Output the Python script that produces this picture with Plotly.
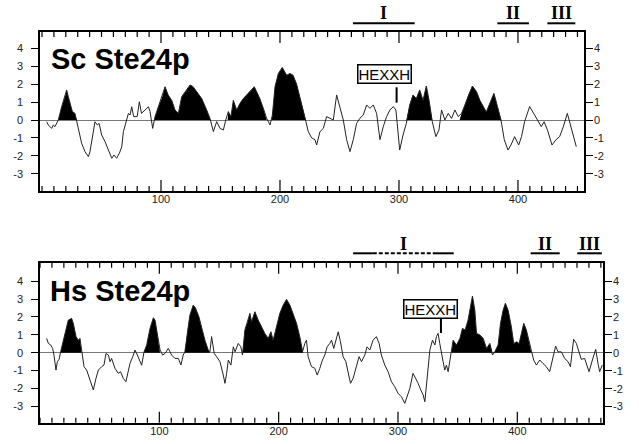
import numpy as np
import plotly.graph_objects as go

# ---------------- data ----------------
SC_POS = [4, 5.3, 8.1, 9.5, 10.9, 13.7, 16.5, 19.3, 20.7, 22.1, 23.5, 25.5, 27.7, 29.1, 30.5, 33.3, 36.1, 39, 40.3, 42.6,
          44.5, 46.5, 48, 50.1, 52.9, 55.8, 58.6, 60.5, 62.7, 65, 67, 68.4, 70.5, 72.6, 74, 75.4, 77, 80, 81.8, 83.6,
          86.6, 89.4, 90.8, 93, 95, 97.8, 100.6, 103.4, 106, 109, 111.8, 114.6, 117.4, 121.6, 124.4, 127, 130, 134.2,
          138.4, 141.2, 144, 146.8, 149.6, 152.4, 154.4, 156.6, 158.8, 160.8, 163.6, 166.4, 169.2, 172, 174.8, 178.4,
          180.4, 183, 186, 188.8, 191.6, 193.6, 195.8, 198.6, 201.9, 205.6, 208.4, 211, 214, 216.8, 219.6, 221.8,
          223.8, 226.6, 229.4, 230.8, 233.6, 236.4, 239.2, 242, 244.8, 247.6, 250.4, 253.2, 256, 258.8, 261.6, 264.4,
          267.2, 270, 272.8, 275.6, 278.4, 281.2, 284, 286.8, 289.6, 292.4, 295.2, 297.4, 298.5, 300.6, 303.4, 306.2,
          309, 311.8, 314.6, 317.4, 320.2, 323, 325.3, 328, 331, 333.6, 335.8, 338.6, 341.4, 344.2, 347, 349.8, 352.6,
          355.4, 358.2, 361.7, 365.2, 368, 373.4, 376.4, 379.8, 382.8, 385.7, 388.5, 391.6, 394.1, 397.2, 400.6, 403,
          405.6, 409.8, 414, 416.5, 419.6, 422, 425, 428.6, 432, 435, 438, 441.5, 444.8, 447, 449]
SC_HYD = [-0.1, -0.28, -0.47, -0.28, -0.37, 0, 0.74, 1.3, 1.68, 1.3, 0.93, 0.47, 0.37, -0.1, -0.56, -1.3, -1.77, -2.05,
          -1.77, -0.74, -0.1, -0.28, -0.19, -0.84, -1.2, -1.68, -2.14, -1.96, -2.14, -1.86, -1.5, -0.65, -0.19, 0.37,
          0.28, 0.74, 0.19, 0.19, 1.02, 0.37, 0.56, 0.74, 0.47, -0.47, 0.19, 0.74, 1.2, 1.86, 1.4, 1.1, 0.56, 0.37,
          1.3, 1.68, 1.96, 1.86, 1.58, 1.2, 0.56, 0.09, -0.65, -0.09, -0.47, -0.56, 0, 0.47, 0.19, 1.1, 0.56, 0.93,
          1.2, 1.4, 1.58, 1.86, 1.58, 1.2, 0.65, 0.09, -0.28, 0.28, 1.86, 2.6, 2.94, 2.5, 2.6, 2.5, 2.0, 1.3, 0.47,
          -0.1, -0.65, -1.0, -1.1, -1.4, -0.65, -0.47, 0.19, 0.09, 0, 1.4, 0.75, 0, -1.1, -1.77, -1.1, -0.19, 0.1,
          0.28, 0.84, 0.65, 0.84, 0.37, -1.1, -0.37, 0.19, 0.56, 0.75, 0.56, -0.19, -1.68, -0.84, -0.19, 0.84, 1.4,
          1.2, 1.68, 1.1, 1.9, 1.1, -0.1, -0.93, -0.56, 0.56, 0, 0.37, 0.09, 0.56, 0.19, 0.37, 0.84, 1.4, 1.9, 1.58,
          1.1, 0.45, 0.93, 1.49, 0.75, 0, -1.1, -1.68, -1.4, -0.93, -1.4, -0.93, -0.09, 0.75, 0.28, 0.0, -0.37, -0.1,
          -0.6, -1.4, -1.1, -0.93, -0.4, 0.37, -0.47, -0.93, -1.49]

HS_POS = [5.6, 7, 9, 10.6, 11.7, 13.4, 14.5, 16, 17.3, 19.6, 21.8, 23.7, 26.5, 27.9, 30.2, 32.1, 33.5, 34.9, 36.9, 39.1,
          41.3, 43.3, 44.7, 46.9, 48.9, 51.7, 53.6, 55.3, 57.3, 58.7, 60, 62.8, 65.6, 67.5, 69.8, 72, 74, 75.4, 77.7,
          79.6, 81.6, 83.8, 85.2, 87.2, 89.4, 92.2, 95, 96.4, 97.8, 100.6, 102.8, 104.8, 107.5, 110.3, 113.1, 115.9,
          118.1, 120, 121.4, 123.7, 125.6, 128.4, 130.4, 133.2, 136, 138.2, 141, 142.4, 143.8, 146, 148, 150.8, 153.6,
          155, 156.4, 157.8, 160, 162, 163.5, 166.1, 168.3, 169.7, 171.7, 174, 175.9, 177.3, 180.1, 182.9, 185.6,
          188.4, 191.2, 193.5, 195.4, 198.2, 201, 203.8, 206.6, 209.4, 212.2, 215, 217.7, 220, 221.9, 223.3, 224.7,
          227.5, 230.3, 232.3, 234.5, 236.7, 238.7, 240.6, 242.9, 244.3, 246.2, 247.9, 249.9, 251.8, 254, 256.3,
          258.2, 260.2, 262.4, 265.2, 267.4, 269.4, 272.2, 274.1, 276.4, 279.1, 281.9, 284.2, 286.1, 288.9, 291.7,
          294.5, 297.3, 300.1, 302.9, 305.7, 307.6, 309.9, 312.6, 314.9, 316.9, 319.1, 321.1, 322.5, 323.9, 325.3,
          326.7, 328.9, 330.9, 332.2, 333.6, 335, 336.4, 337.8, 339.2, 340.6, 342, 344.8, 346.2, 349, 351.9, 354,
          356.3, 358.7, 361, 362.4, 364.4, 365.8, 368.5, 371.4, 374.2, 377, 379.2, 381.1, 383.9, 385.9, 388.1, 390,
          392.3, 395, 397, 399.3, 401.5, 403.4, 405.4, 407.6, 409.6, 411.8, 413.7, 416, 418.8, 421.5, 424.3, 427.1,
          429.9, 432.1, 434.1, 436.9, 439.7, 442.5, 444.5, 447.2, 449.5, 451.7, 453.6, 456.4, 460.1, 462.9, 465.7,
          467.6, 469, 471.2]
HS_HYD = [0.8, 0.52, 0.43, 0.24, -0.13, -0.97, -0.5, -0.37, 0.05, 0.7, 1.36, 1.82, 1.92, 1.64, 0.9, 0.7, 0.8, 0.05,
          -0.78, -0.97, -1.43, -1.9, -2.08, -1.43, -0.97, -0.78, -0.69, -0.04, -0.13, -0.5, -0.32, -0.87, -1.15, -1.06,
          -1.43, -1.62, -0.97, -0.6, -0.22, 0.15, -0.13, -0.5, -0.7, 0.05, 0.43, 1.36, 1.95, 1.82, 1.27, 0.15, -0.13,
          -0.04, 0.24, -0.13, -0.32, -0.32, -0.69, -0.13, 0.05, 1.27, 2.1, 2.66, 2.48, 2.0, 1.27, 0.7, 0.15, 0.05, 0.9,
          -0.04, -0.22, -0.5, -1.25, -1.71, -1.15, -0.41, -0.69, 0.33, 0.05, 0.52, 0.33, -0.13, 1.27, 1.73, 2.2, 1.73,
          2.29, 1.82, 1.45, 1.08, 0.8, 1.17, 0.7, 1.45, 2.2, 2.66, 2.98, 2.66, 2.2, 1.64, 0.9, 0.05, 0.52, 0.7, -0.22,
          -0.78, -0.87, -1.25, -0.87, -0.41, -0.13, 0.33, 0.52, 0.7, 0.24, 0.7, 1.17, 0.61, -0.22, -0.5, -1.06, -1.71,
          -1.43, -0.69, -0.22, -0.5, -0.13, 0.33, 0.15, 0.7, 0.9, 0.52, -0.13, -0.69, -1.06, -1.62, -1.9, -2.27, -2.46,
          -2.83, -2.46, -2.0, -1.15, -1.43, -1.71, -2.08, -2.36, -2.74, -1.9, -0.78, 0.15, 0.7, 0.43, 0.9, 1.08, 0.52,
          -0.13, -0.5, -0.97, -0.69, -1.06, 0, 0.7, 0.43, 0.8, 1.36, 1.27, 1.82, 2.76, 3.17, 2.38, 1.08, 1.0, 0.8,
          0.24, 0.52, -0.13, 0.05, 0.43, 1.64, 2.38, 2.76, 2.38, 1.45, 0.52, 0.61, 0.52, 1.08, 1.64, 1.27, 0.7, 0,
          -0.41, -0.69, -0.41, -0.6, -0.78, -1.06, -0.22, 0.37, 0.05, 0.05, -0.32, -0.5, -0.78, 0.75, 0.52, 0,
          -0.37, -0.32, -1.06, -0.41, 0.19, -0.6, -1.06, -0.69]

# shaded (hydrophobic) segments, residue ranges
SC_FILL = [(13.7, 29.1), (94.5, 141.5), (156.0, 188.8), (193.0, 221.8), (306.0, 328.0), (351.0, 386.0)]
HS_FILL = [(17.3, 34.9), (87.2, 100.6), (121.4, 142.4), (169.7, 220.5), (344.8, 411.8)]

# conserved regions I, II, III (residue ranges) and the HEXXH motif position
SC_REGIONS = {"I": [(261.3, 313.2, "solid")], "II": [(382.7, 409.2, "solid")], "III": [(424.7, 448.2, "solid")]}
HS_REGIONS = {"I": [(262.4, 278.9, "solid"), (278.9, 329.1, "4px,2px"), (329.1, 346.7, "solid")],
              "II": [(411.2, 435.5, "solid")], "III": [(450.2, 470.8, "solid")]}
SC_HEXXH = 298
HS_HEXXH = 336

Y_TICKS = [-3, -2, -1, 0, 1, 2, 3, 4]
Y_TEXT = ["-3", "-2", "-1", "0", "1", "2", "3", "4"]
X_TICKS = [100, 200, 300, 400]
X_MINOR_STEP = 10

W, H = 639, 444
FONT = "Liberation Sans, Arial, Helvetica, sans-serif"
SERIF = "Liberation Serif, Times New Roman, serif"
MAJOR_LEN_PX = 11
MINOR_LEN_PX = 5


def fill_paths(pos, hyd, regions):
    pos = np.asarray(pos, float)
    hyd = np.asarray(hyd, float)
    xs, ys = [], []
    for a, b in regions:
        sel = (pos >= a) & (pos <= b)
        xs += [a] + list(pos[sel]) + [b, None]
        ys += [0] + list(np.clip(hyd[sel], 0, None)) + [0, None]
    return xs, ys


tickfont = dict(family=FONT, size=11, color="#222")

top_x = [40 / W, 584 / W]
bot_x = [40 / W, 603 / W]
top_y = [1 - 191 / H, 1 - 32 / H]
bot_y = [1 - 422.7 / H, 1 - 262.7 / H]
top_xr = [-1.7, 455.5]
bot_xr = [0, 471.8]
top_yr = [-3.97, 4.92]
bot_yr = [-3.91, 5.03]

panels = [
    dict(pos=SC_POS, hyd=SC_HYD, fill=SC_FILL, xa="x", ya="y", xdom=top_x, ydom=top_y, xr=top_xr, yr=top_yr,
         right_px=592),
    dict(pos=HS_POS, hyd=HS_HYD, fill=HS_FILL, xa="x2", ya="y2", xdom=bot_x, ydom=bot_y, xr=bot_xr, yr=bot_yr,
         right_px=611),
]

fig = go.Figure()
layout = dict(width=W, height=H, margin=dict(l=0, r=0, t=0, b=0),
              paper_bgcolor="white", plot_bgcolor="white", showlegend=False)
annotations = []
shapes = []

for p in panels:
    fx, fy = fill_paths(p["pos"], p["hyd"], p["fill"])
    fig.add_trace(go.Scatter(x=fx, y=fy, xaxis=p["xa"], yaxis=p["ya"], mode="lines", fill="toself",
                             fillcolor="black", line=dict(width=0, color="black"), hoverinfo="skip"))
    fig.add_trace(go.Scatter(x=p["pos"], y=p["hyd"], xaxis=p["xa"], yaxis=p["ya"], mode="lines",
                             line=dict(color="#222", width=1), hoverinfo="skip"))

    xkey = "xaxis" if p["xa"] == "x" else "xaxis" + p["xa"][1:]
    ykey = "yaxis" if p["ya"] == "y" else "yaxis" + p["ya"][1:]
    layout[xkey] = dict(domain=p["xdom"], range=p["xr"], anchor=p["ya"], tickmode="array", tickvals=X_TICKS,
                        ticks="", showline=True, mirror=True, linecolor="black", linewidth=1.5,
                        showgrid=False, zeroline=False, tickfont=tickfont, ticklabelstandoff=-3)
    layout[ykey] = dict(domain=p["ydom"], range=p["yr"], anchor=p["xa"], tickvals=Y_TICKS, ticktext=Y_TEXT,
                        ticks="outside", ticklen=7, tickwidth=1, tickcolor="black", showline=True,
                        linecolor="black", linewidth=1.5, mirror="ticks", showgrid=False,
                        zeroline=True, zerolinecolor="#777", zerolinewidth=1.3, tickfont=tickfont,
                        ticklabelstandoff=6)

    # inward tick combs on the top and bottom frame edges, placed through the x scale
    panel_h_px = (p["ydom"][1] - p["ydom"][0]) * H
    yd = p["ya"] + " domain"
    for v in np.arange(0, p["xr"][1], X_MINOR_STEP):
        frac = (MAJOR_LEN_PX if v in X_TICKS else MINOR_LEN_PX) / panel_h_px
        for y0, y1 in [(0, frac), (1, 1 - frac)]:
            shapes.append(dict(type="line", xref=p["xa"], yref=yd, x0=float(v), x1=float(v), y0=y0, y1=y1,
                               line=dict(color="black", width=1.2), layer="above"))

    # right-hand tick labels
    for v, t in zip(Y_TICKS, Y_TEXT):
        annotations.append(dict(text=t, xref="paper", yref=p["ya"], x=p["right_px"] / W, y=v, xanchor="left",
                                yanchor="middle", showarrow=False, font=tickfont))

fig.update_layout(**layout)

# panel titles
annotations.append(dict(text="<b>Sc Ste24p</b>", xref="paper", yref="paper", x=49 / W, y=1 - 59 / H,
                        xanchor="left", yanchor="middle", showarrow=False,
                        font=dict(family=FONT, size=29, color="black")))
annotations.append(dict(text="<b>Hs Ste24p</b>", xref="paper", yref="paper", x=48 / W, y=1 - 291 / H,
                        xanchor="left", yanchor="middle", showarrow=False,
                        font=dict(family=FONT, size=29, color="black")))

# conserved regions
for regs, xref, bar_y, lab_y in [(SC_REGIONS, "x", 1 - 23.3 / H, 1 - 13 / H),
                                  (HS_REGIONS, "x2", 1 - 253.3 / H, 1 - 244 / H)]:
    for name, segs in regs.items():
        for a, b, style in segs:
            shapes.append(dict(type="line", xref=xref, yref="paper", x0=a, x1=b, y0=bar_y, y1=bar_y,
                               line=dict(color="black", width=2, dash=style)))
        lo = segs[0][0]
        hi = segs[-1][1]
        annotations.append(dict(text="<b>%s</b>" % name, xref=xref, yref="paper", x=(lo + hi) / 2, y=lab_y,
                                xanchor="center", yanchor="middle", showarrow=False,
                                font=dict(family=SERIF, size=18, color="black")))

# HEXXH markers
for xref, yref, hx, box_x, box_y, t0, t1 in [("x", "y", SC_HEXXH, 287.7, 2.55, 0.97, 1.83),
                                             ("x2", "y2", HS_HEXXH, 327.0, 2.42, 1.1, 1.95)]:
    annotations.append(dict(text="HEXXH", xref=xref, yref=yref, x=box_x, y=box_y, xanchor="center",
                            yanchor="middle", showarrow=False, bordercolor="black", borderwidth=1.5,
                            borderpad=0, bgcolor="white", font=dict(family=FONT, size=15, color="black")))
    shapes.append(dict(type="line", xref=xref, yref=yref, x0=hx, x1=hx, y0=t0, y1=t1,
                       line=dict(color="black", width=2)))

fig.update_layout(shapes=shapes, annotations=annotations)
fig.write_html("out.html", config={"displayModeBar": False},
               post_script="document.body.style.margin='0';document.body.style.padding='0';")
